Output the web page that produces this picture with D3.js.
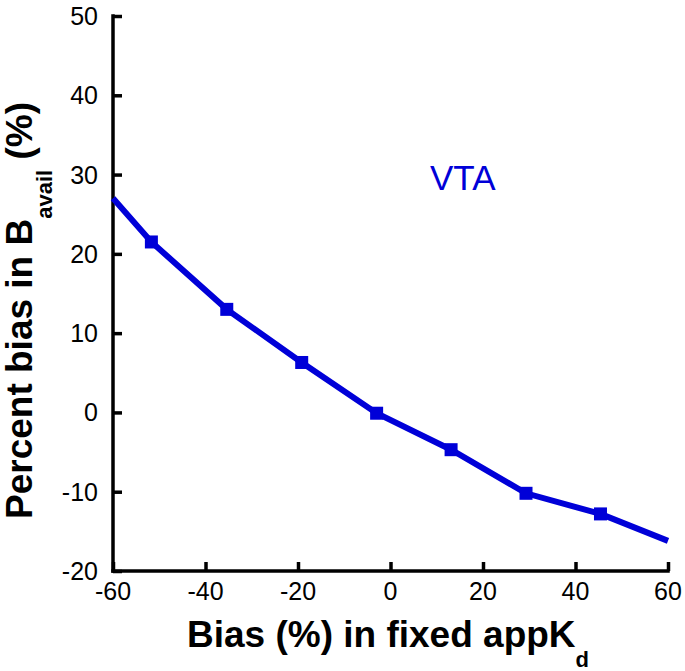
<!DOCTYPE html>
<html>
<head>
<meta charset="utf-8">
<script src="https://cdn.jsdelivr.net/npm/d3@7"></script>
<style>
	body { margin: 0; background: #fff; }
	text { font-family: "Liberation Sans", Arial, sans-serif; }
</style>
</head>
<body>
<div id="chart"></div>
<script>
// values
var bias_kd = [-60, -51.7, -35.4, -19.2, -3.0, 13.1, 29.3, 45.4, 60];
var bias_bavail = [27.0, 21.5, 13.0, 6.3, -0.1, -4.7, -10.2, -12.8, -16.2];
var has_marker = [false, true, true, true, true, true, true, true, false];
var x_ticks = [-60, -40, -20, 0, 20, 40, 60];
var y_ticks = [-20, -10, 0, 10, 20, 30, 40, 50];

var width = 685, height = 671;
var margin = {left: 113, right: 17, top: 16, bottom: 100};
var blue = "#0000d8";

var svg = d3.select("#chart").append("svg")
	.attr("width", width)
	.attr("height", height);

var x = d3.scaleLinear().domain([-60, 60]).range([margin.left, width - margin.right]);
var y = d3.scaleLinear().domain([-20, 50]).range([height - margin.bottom, margin.top]);

var points = bias_kd.map(function(d, i){ return {x: d, y: bias_bavail[i], m: has_marker[i]}; });

//axes, ticks point inwards
var xAxis = svg.append("g")
	.attr("transform", "translate(0," + y(-20) + ")")
	.call(d3.axisTop(x).tickValues(x_ticks).tickSize(9).tickFormat(d3.format("d")));
xAxis.selectAll("text").remove();

var yAxis = svg.append("g")
	.attr("transform", "translate(" + x(-60) + ",0)")
	.call(d3.axisRight(y).tickValues(y_ticks).tickSize(9).tickFormat(d3.format("d")));
yAxis.selectAll("text").remove();

svg.selectAll(".domain, .tick line")
	.attr("stroke", "#000")
	.attr("stroke-width", 3.5);
svg.selectAll(".domain").attr("d", null);

//draw the axis lines by hand so both start at the corner
svg.append("line")
	.attr("x1", x(-60)).attr("x2", x(60))
	.attr("y1", y(-20)).attr("y2", y(-20))
	.attr("stroke", "#000").attr("stroke-width", 3.5).attr("stroke-linecap", "square");
svg.append("line")
	.attr("x1", x(-60)).attr("x2", x(-60))
	.attr("y1", y(-20)).attr("y2", y(50))
	.attr("stroke", "#000").attr("stroke-width", 3.5).attr("stroke-linecap", "square");

//tick labels
svg.selectAll(".xlab")
	.data(x_ticks)
	.enter().append("text")
		.attr("class", "xlab")
		.attr("x", function(d){ return x(d); })
		.attr("y", y(-20) + 29)
		.attr("text-anchor", "middle")
		.attr("font-size", 25)
		.text(function(d){ return d; });

svg.selectAll(".ylab")
	.data(y_ticks)
	.enter().append("text")
		.attr("class", "ylab")
		.attr("x", x(-60) - 15)
		.attr("y", function(d){ return y(d) + 9; })
		.attr("text-anchor", "end")
		.attr("font-size", 25)
		.text(function(d){ return d; });

//the curve
var line = d3.line()
	.x(function(d){ return x(d.x); })
	.y(function(d){ return y(d.y); });

svg.append("path")
	.datum(points)
	.attr("d", line)
	.attr("fill", "none")
	.attr("stroke", blue)
	.attr("stroke-width", 6);

svg.selectAll(".marker")
	.data(points.filter(function(d){ return d.m; }))
	.enter().append("rect")
		.attr("class", "marker")
		.attr("x", function(d){ return x(d.x) - 6.5; })
		.attr("y", function(d){ return y(d.y) - 6.5; })
		.attr("width", 13)
		.attr("height", 13)
		.attr("fill", blue);

svg.append("text")
	.attr("x", 430)
	.attr("y", 190)
	.attr("font-size", 35)
	.attr("fill", blue)
	.text("VTA");

//axis titles
var xt = svg.append("text")
	.attr("x", 187)
	.attr("y", 647)
	.attr("font-size", 37)
	.attr("font-weight", "bold");
xt.append("tspan").text("Bias (%) in fixed appK");
xt.append("tspan").attr("dy", 20).attr("font-size", 22).text("d");

var yt = svg.append("text")
	.attr("transform", "translate(32,519) rotate(-90)")
	.attr("font-size", 37)
	.attr("font-weight", "bold");
yt.append("tspan").text("Percent  bias in B");
yt.append("tspan").attr("dy", 20).attr("font-size", 22).text("avail");
yt.append("tspan").attr("dy", -20).text(" (%)");
</script>
</body>
</html>
